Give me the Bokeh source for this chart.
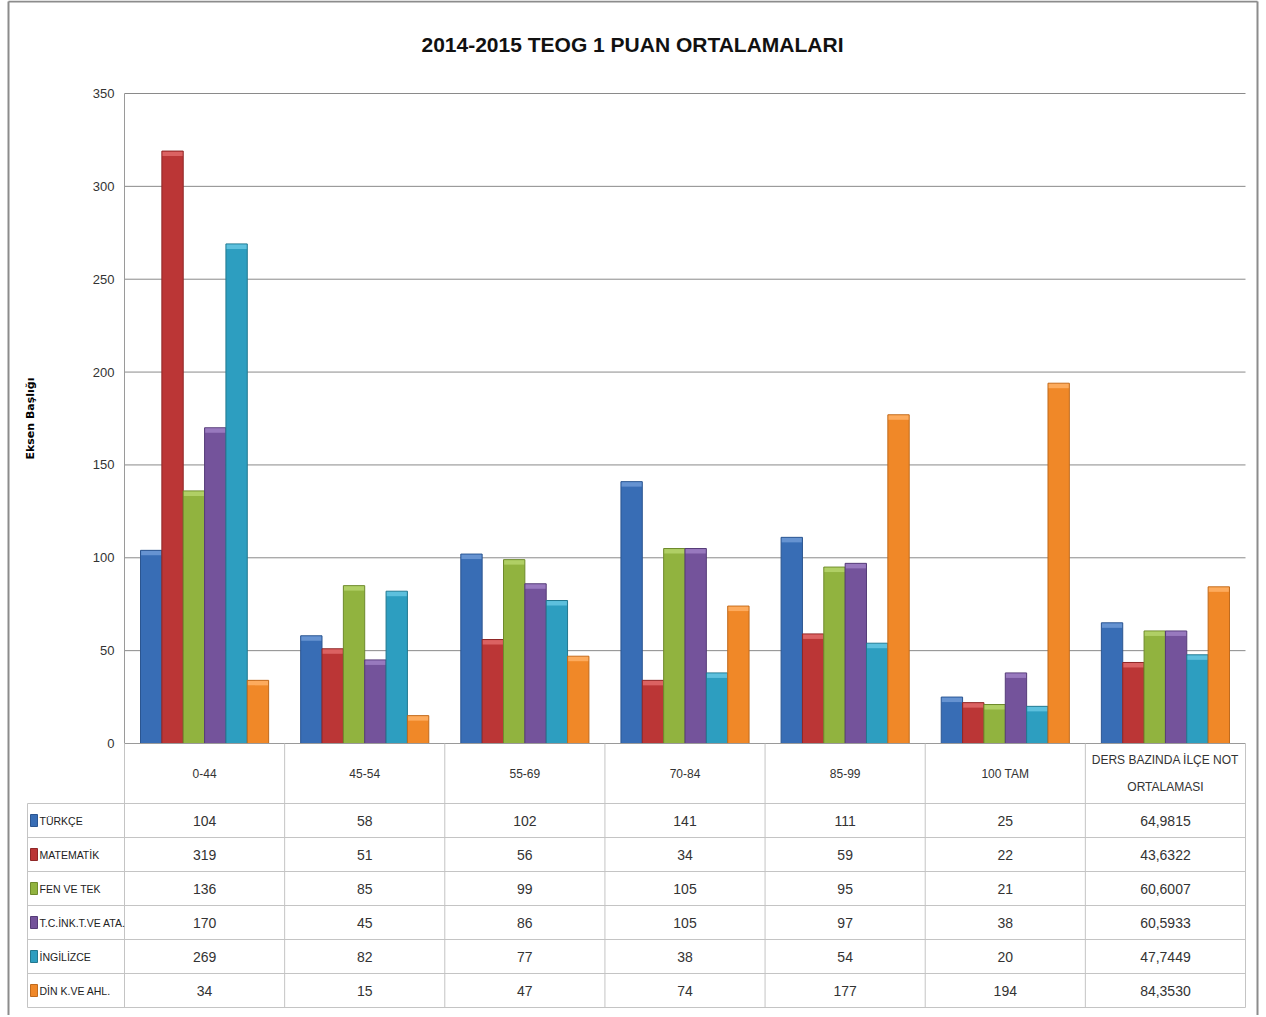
import math
from bokeh.plotting import figure
from bokeh.models import Range1d
from bokeh.core.properties import value
from bokeh.embed import file_html
from bokeh.resources import INLINE

# ---------------- data ----------------
chart_title = "2014-2015 TEOG 1 PUAN ORTALAMALARI"
axis_title = "Eksen Başlığı"
categories = ["0-44", "45-54", "55-69", "70-84", "85-99", "100 TAM",
              "DERS BAZINDA İLÇE NOT\nORTALAMASI"]
series_names = ["TÜRKÇE", "MATEMATİK", "FEN VE TEK", "T.C.İNK.T.VE ATA.",
                "İNGİLİZCE", "DİN K.VE AHL."]
turkce = [104, 58, 102, 141, 111, 25, 64.9815]
matematik = [319, 51, 56, 34, 59, 22, 43.6322]
fen = [136, 85, 99, 105, 95, 21, 60.6007]
inkilap = [170, 45, 86, 105, 97, 38, 60.5933]
ingilizce = [269, 82, 77, 38, 54, 20, 47.7449]
din = [34, 15, 47, 74, 177, 194, 84.3530]
series = [turkce, matematik, fen, inkilap, ingilizce, din]
y_ticks = [0, 50, 100, 150, 200, 250, 300, 350]

colors = ["#386db5", "#bb3636", "#91b33f", "#74539b", "#2d9ec0", "#f08828"]
caps = ["#6f9ad6", "#e06a6a", "#b5d36c", "#9f80c4", "#66c6e2", "#ffb266"]
edges = ["#2b5590", "#8f2727", "#6e8a2c", "#563c78", "#22788f", "#c06a1c"]

FONT = "Liberation Sans"

# ---------------- geometry ----------------
W, H = 1260, 1015
PXX = 1121.0 / 7.0      # px per category
PXY = 650.0 / 350.0     # px per value unit
LEFT_PX = 124           # px from figure left to first category
ZERO_PX = 743           # px from figure top to value 0
x0 = -LEFT_PX / PXX
x1 = x0 + W / PXX
y1 = ZERO_PX / PXY
y0 = -(H - ZERO_PX) / PXY


def px_x(px):
    return (px - LEFT_PX) / PXX


def px_y(px):
    return (ZERO_PX - px) / PXY


HDR = 60 / PXY
ROW = 34 / PXY
LEFTW = 97 / PXX
ncat = len(categories)
nser = len(series)
group_w = 0.8
bw = group_w / nser

p = figure(width=W, height=H, output_backend="svg", toolbar_location=None,
           x_range=Range1d(x0, x1), y_range=Range1d(y0, y1),
           min_border=0)
p.axis.visible = False
p.grid.visible = False
p.outline_line_color = None
p.background_fill_color = "white"
p.border_fill_color = "white"

# outer chart border (left, top, right)
p.segment(x0=[px_x(8), px_x(8), px_x(1257)], y0=[y0, px_y(1), px_y(1)],
          x1=[px_x(8), px_x(1257), px_x(1257)], y1=[px_y(1), px_y(1), y0],
          line_color="#8c8c8c", line_width=2)

# title
p.text(x=[px_x(632)], y=[px_y(44)], text=[chart_title],
       text_font=value(FONT), text_font_style="bold", text_font_size="21px",
       text_align="center", text_baseline="middle", text_color="#111111")

# gridlines and axis
grid_y = [t for t in y_ticks if t > 0]
p.segment(x0=[0] * len(grid_y), y0=grid_y, x1=[ncat] * len(grid_y), y1=grid_y,
          line_color="#8a8a8a", line_width=1)
p.segment(x0=[0], y0=[0], x1=[0], y1=[max(y_ticks)], line_color="#9a9a9a", line_width=1)
p.text(x=[0] * len(y_ticks), y=y_ticks, text=[str(t) for t in y_ticks],
       x_offset=-10, text_font=value(FONT), text_font_size="13px",
       text_align="right", text_baseline="middle", text_color="#333333")

# axis title
p.text(x=[px_x(30)], y=[px_y(418)], text=[axis_title],
       angle=math.pi / 2, text_font=value("DejaVu Sans"), text_font_style="bold",
       text_font_size="11px", text_align="center", text_baseline="middle",
       text_color="#000000")

# bars
cap_h = 5 / PXY
for j, vals in enumerate(series):
    xs = [i + 0.5 - group_w / 2 + (j + 0.5) * bw for i in range(ncat)]
    p.vbar(x=xs, top=vals, bottom=0, width=bw, fill_color=colors[j],
           line_color=edges[j], line_width=1)
    p.quad(left=[x - bw / 2 + 0.004 for x in xs], right=[x + bw / 2 - 0.004 for x in xs],
           bottom=[v - cap_h for v in vals], top=[v - 0.3 for v in vals],
           fill_color=caps[j], line_color=None, fill_alpha=0.85)

# zero line
p.segment(x0=[0], y0=[0], x1=[ncat], y1=[0], line_color="#9a9a9a", line_width=1)

# ---------------- data table ----------------
tbl_bottom = -HDR - nser * ROW
line_col = "#c4c4c4"
hy = [-HDR - k * ROW for k in range(nser + 1)]
p.segment(x0=[-LEFTW] * len(hy), y0=hy, x1=[ncat] * len(hy), y1=hy,
          line_color=line_col, line_width=1)
vx = list(range(ncat + 1))
p.segment(x0=vx, y0=[0] * len(vx), x1=vx, y1=[tbl_bottom] * len(vx),
          line_color=line_col, line_width=1)
p.segment(x0=[-LEFTW], y0=[-HDR], x1=[-LEFTW], y1=[tbl_bottom],
          line_color=line_col, line_width=1)

# header labels
p.text(x=[i + 0.5 for i in range(ncat)], y=[-HDR / 2] * ncat, text=categories,
       text_font=value(FONT), text_font_size="12px", text_align="center",
       text_baseline="middle", text_color="#333333", text_line_height=1.9)


def fmt(v, i):
    if i == ncat - 1:
        return f"{v:.4f}".replace(".", ",")
    return str(int(v))


for j, vals in enumerate(series):
    yc = -HDR - (j + 0.5) * ROW
    p.text(x=[i + 0.5 for i in range(ncat)], y=[yc] * ncat,
           text=[fmt(v, i) for i, v in enumerate(vals)],
           text_font=value(FONT), text_font_size="14px", text_align="center",
           text_baseline="middle", text_color="#333333")
    p.rect(x=[px_x(33.5)], y=[yc], width=7 / PXX, height=12 / PXY,
           fill_color=colors[j], line_color=edges[j], line_width=1)
    p.text(x=[px_x(39)], y=[yc], text=[series_names[j]],
           text_font=value(FONT), text_font_size="10.5px", text_align="left",
           text_baseline="middle", text_color="#222222")

open("out.html", "w").write(file_html(p, INLINE))
